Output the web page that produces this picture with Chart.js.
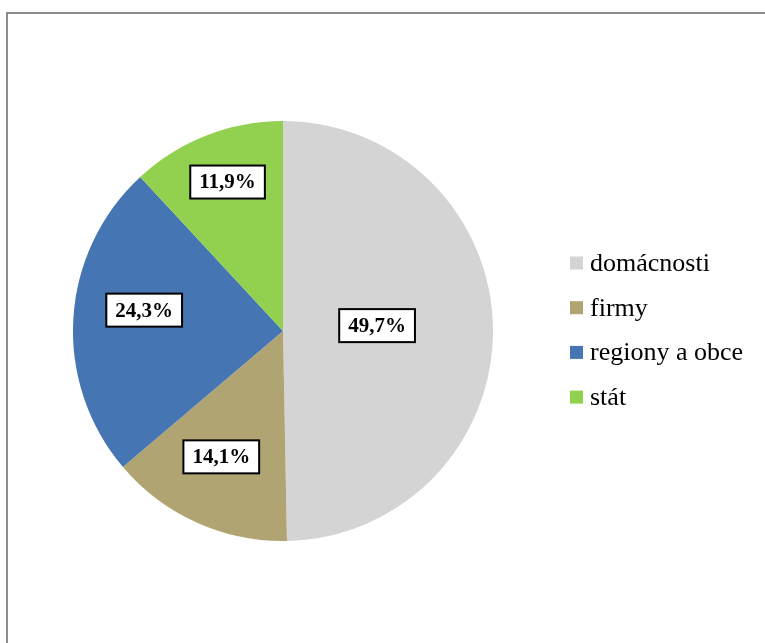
<!DOCTYPE html>
<html>
<head>
<meta charset="utf-8">
<script src="https://cdn.jsdelivr.net/npm/chart.js@4"></script>
<style>
  html, body { margin: 0; padding: 0; background: #fff; }
  #wrap { position: relative; width: 765px; height: 643px; overflow: hidden; }
  #frame {
    position: absolute; left: 6px; top: 12px; width: 900px; height: 800px;
    border-left: 2px solid #8c8c8c; border-top: 2px solid #8c8c8c;
  }
  canvas { position: absolute; left: 0; top: 0; }
</style>
</head>
<body>
<div id="wrap">
  <div id="frame"></div>
  <canvas id="pie" width="765" height="643"></canvas>
</div>
<script>
/* ── Data ── */
const CATEGORIES = ['domácnosti', 'firmy', 'regiony a obce', 'stát'];
const SHARES     = [49.7, 14.1, 24.3, 11.9];
const COLORS     = ['#d4d4d4', '#b0a572', '#4575b2', '#92d050'];

/* ── Label placement: fraction of radius, plus a small nudge in px ── */
const LABEL_POS   = [0.448, 0.668, 0.667, 0.762];
const LABEL_NUDGE = [[0, -4.5], [-4, -2], [1, -12.5], [3, 0]];

const FONT = "'Liberation Serif', 'Times New Roman', serif";

function fmtPct(v) { return v.toFixed(1).replace('.', ',') + '%'; }

/* ── Boxed percentage labels ── */
const boxLabels = {
  id: 'boxLabels',
  afterDatasetsDraw(chart) {
    const { ctx } = chart;
    const meta = chart.getDatasetMeta(0);
    ctx.save();
    ctx.font = 'bold 21px ' + FONT;
    ctx.textAlign = 'center';
    ctx.textBaseline = 'middle';
    meta.data.forEach((arc, i) => {
      const mid = (arc.startAngle + arc.endAngle) / 2;
      const r = arc.outerRadius * LABEL_POS[i];
      const x = arc.x + Math.cos(mid) * r + LABEL_NUDGE[i][0];
      const y = arc.y + Math.sin(mid) * r + LABEL_NUDGE[i][1];
      const text = fmtPct(SHARES[i]);
      const w = ctx.measureText(text).width + 18;
      const h = 33;
      ctx.fillStyle = '#fff';
      ctx.fillRect(x - w / 2, y - h / 2, w, h);
      ctx.strokeStyle = '#000';
      ctx.lineWidth = 2;
      ctx.strokeRect(x - w / 2, y - h / 2, w, h);
      ctx.fillStyle = '#000';
      ctx.fillText(text, x, y + 1);
    });
    ctx.restore();
  }
};

/* ── Legend at right ── */
const sideLegend = {
  id: 'sideLegend',
  afterDraw(chart) {
    const { ctx } = chart;
    const labels = chart.data.labels;
    const colors = chart.data.datasets[0].backgroundColor;
    ctx.save();
    ctx.font = '26px ' + FONT;
    ctx.textBaseline = 'middle';
    labels.forEach((lab, i) => {
      const y = 263 + i * 44.7;
      ctx.fillStyle = colors[i];
      ctx.fillRect(570, y - 6.5, 13, 13);
      ctx.fillStyle = '#000';
      ctx.fillText(lab, 590, y + 1);
    });
    ctx.restore();
  }
};

new Chart(document.getElementById('pie'), {
  type: 'pie',
  data: {
    labels: CATEGORIES,
    datasets: [{
      data: SHARES,
      backgroundColor: COLORS,
      borderWidth: 0
    }]
  },
  options: {
    responsive: false,
    animation: false,
    layout: { padding: { left: 73, right: 272, top: 121, bottom: 102 } },
    plugins: {
      legend: { display: false },
      tooltip: { enabled: false }
    }
  },
  plugins: [boxLabels, sideLegend]
});
</script>
</body>
</html>
